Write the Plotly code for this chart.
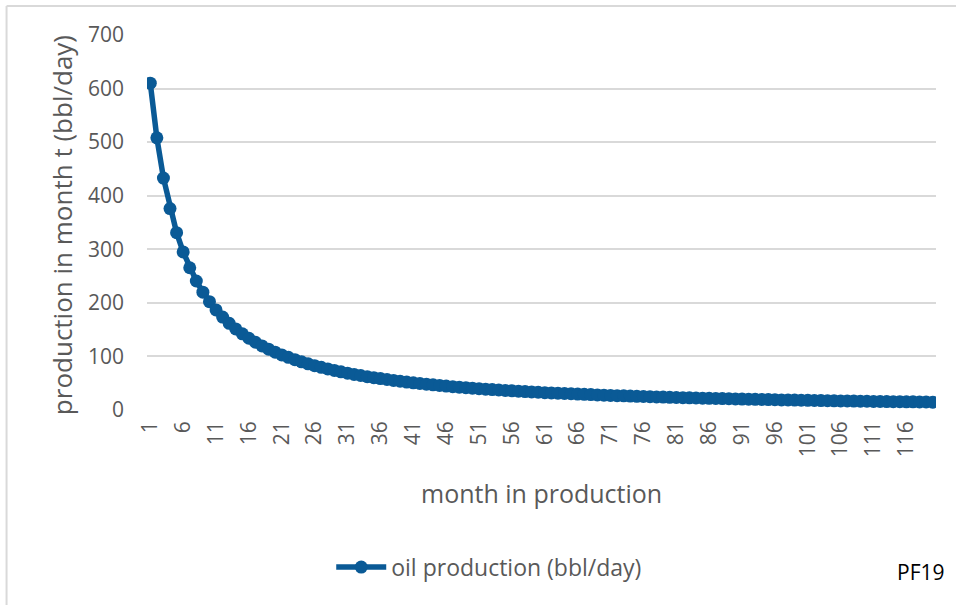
import plotly.graph_objects as go

months = list(range(1, 121))
oil_production = [
    610, 508, 433, 376, 331, 295, 265.5, 240.8, 220, 202.3,
    186.9, 173.5, 161.8, 151.4, 142.2, 133.9, 126.5, 119.7, 113.6, 108.0,
    102.9, 98.3, 93.9, 89.9, 86.2, 82.8, 79.6, 76.7, 73.9, 71.3,
    68.8, 66.5, 64.4, 62.3, 60.4, 58.6, 56.9, 55.2, 53.7, 52.2,
    50.8, 49.5, 48.2, 47.0, 45.8, 44.7, 43.6, 42.6, 41.6, 40.7,
    39.8, 38.9, 38.1, 37.3, 36.5, 35.8, 35.1, 34.4, 33.7, 33.1,
    32.4, 31.9, 31.4, 30.8, 30.3, 29.8, 29.3, 28.8, 28.2, 27.7,
    27.2, 26.8, 26.4, 26.0, 25.6, 25.2, 24.9, 24.5, 24.1, 23.7,
    23.3, 23.0, 22.7, 22.4, 22.1, 21.8, 21.6, 21.3, 21.0, 20.7,
    20.4, 20.2, 19.9, 19.7, 19.4, 19.2, 18.9, 18.7, 18.5, 18.2,
    18.0, 17.8, 17.6, 17.4, 17.2, 17.0, 16.9, 16.7, 16.5, 16.3,
    16.1, 15.9, 15.8, 15.6, 15.5, 15.3, 15.2, 15.0, 14.9, 14.7,
]
x_tick_values = list(range(1, 121, 5))
y_tick_values = [0, 100, 200, 300, 400, 500, 600, 700]

series_name = "oil production (bbl/day)"
x_title = "month in production"
y_title = "production in month t (bbl/day)"
label_text = "PF19"

FONT = "Open Sans, Noto Sans, sans-serif"
GREY = "#595959"
BLUE = "#0a5a96"

fig = go.Figure()
fig.add_trace(go.Scatter(
    x=months, y=oil_production, mode="lines+markers", name=series_name,
    line=dict(color=BLUE, width=5.5),
    marker=dict(color=BLUE, size=13),
))

fig.update_layout(
    width=956, height=605,
    margin=dict(l=147, r=20, t=35, b=195, autoexpand=False),
    paper_bgcolor="white", plot_bgcolor="white",
    font=dict(family=FONT, color=GREY, size=21),
    showlegend=True,
    legend=dict(orientation="h", x=0.2335, xanchor="left", y=-0.419, yanchor="middle",
                itemwidth=50,
                font=dict(size=23, color=GREY), bgcolor="rgba(0,0,0,0)"),
    xaxis=dict(range=[0.5, 120.5], tickmode="array", tickvals=x_tick_values,
               ticktext=[str(v) for v in x_tick_values], tickangle=-90,
               showgrid=False, zeroline=False, showline=False, ticks="",
               ticklabelstandoff=6, tickfont=dict(size=21, color=GREY)),
    yaxis=dict(range=[0, 700], tickmode="array", tickvals=y_tick_values,
               showgrid=True, gridcolor="#d9d9d9", gridwidth=1.5, zeroline=False,
               showline=False, ticks="", ticklabelstandoff=22,
               tickfont=dict(size=21, color=GREY)),
    annotations=[
        dict(text=x_title, xref="paper", yref="paper", x=0.4994, y=-0.221,
             xanchor="center", yanchor="middle", showarrow=False,
             font=dict(size=25, color=GREY)),
        dict(text=y_title, xref="paper", yref="paper", x=-0.1077, y=0.493,
             xanchor="center", yanchor="middle", showarrow=False, textangle=-90,
             font=dict(size=26, color=GREY)),
        dict(text=label_text, xref="paper", yref="paper", x=0.981, y=-0.432,
             xanchor="center", yanchor="middle", showarrow=False,
             font=dict(size=21, color="#000000")),
    ],
    shapes=[
        dict(type="line", xref="paper", yref="paper", x0=-0.178, x1=1.03,
             y0=1.0773, y1=1.0773, line=dict(color="#d9d9d9", width=2)),
        dict(type="line", xref="paper", yref="paper", x0=-0.178, x1=-0.178,
             y0=1.0773, y1=-0.53, line=dict(color="#d9d9d9", width=2)),
    ],
)

fig.write_html(
    "out.html",
    config={"displayModeBar": False},
    post_script="document.body.style.margin='0';document.body.style.overflow='hidden';",
)
